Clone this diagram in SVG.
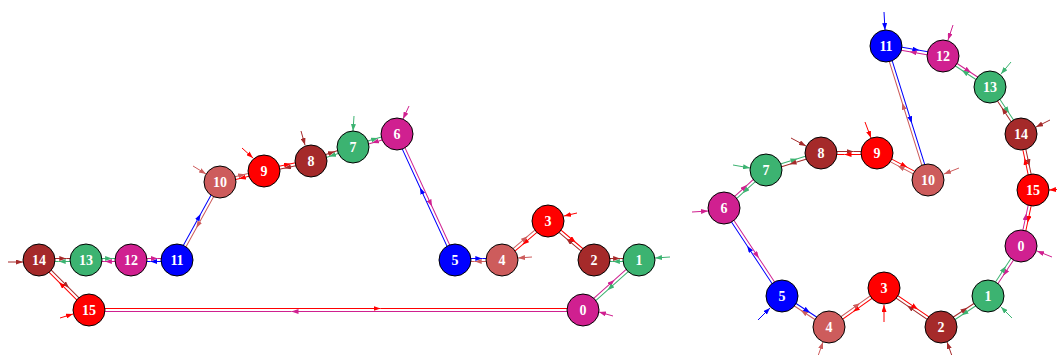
<svg xmlns="http://www.w3.org/2000/svg" width="1057" height="355" viewBox="0 0 1057 355">
<style>
path{fill:none;stroke-width:1}
.c0{stroke:#D02090}.c1{stroke:#3CB371}.c2{stroke:#A52A2A}.c3{stroke:#FF0000}.c4{stroke:#CD5C5C}.c5{stroke:#0000FF}
.e.c0{marker-mid:url(#a0)}.e.c1{marker-mid:url(#a1)}.e.c2{marker-mid:url(#a2)}.e.c3{marker-mid:url(#a3)}.e.c4{marker-mid:url(#a4)}.e.c5{marker-mid:url(#a5)}
.t.c0{marker-end:url(#a0)}.t.c1{marker-end:url(#a1)}.t.c2{marker-end:url(#a2)}.t.c3{marker-end:url(#a3)}.t.c4{marker-end:url(#a4)}.t.c5{marker-end:url(#a5)}
circle{stroke:#000;stroke-width:1}
.n0{fill:#D02090}.n1{fill:#3CB371}.n2{fill:#A52A2A}.n3{fill:#FF0000}.n4{fill:#CD5C5C}.n5{fill:#0000FF}
text{font-family:"Liberation Serif","Times New Roman",serif;font-weight:bold;font-size:14px;fill:#fff;text-anchor:middle}
</style>
<defs>
<marker id="a0" markerUnits="userSpaceOnUse" markerWidth="7" markerHeight="5" viewBox="0 0 7 5" refX="7" refY="2.5" orient="auto"><path d="M0,0L7,2.5L0,5z" style="fill:#D02090;stroke:none"/></marker>
<marker id="a1" markerUnits="userSpaceOnUse" markerWidth="7" markerHeight="5" viewBox="0 0 7 5" refX="7" refY="2.5" orient="auto"><path d="M0,0L7,2.5L0,5z" style="fill:#3CB371;stroke:none"/></marker>
<marker id="a2" markerUnits="userSpaceOnUse" markerWidth="7" markerHeight="5" viewBox="0 0 7 5" refX="7" refY="2.5" orient="auto"><path d="M0,0L7,2.5L0,5z" style="fill:#A52A2A;stroke:none"/></marker>
<marker id="a3" markerUnits="userSpaceOnUse" markerWidth="7" markerHeight="5" viewBox="0 0 7 5" refX="7" refY="2.5" orient="auto"><path d="M0,0L7,2.5L0,5z" style="fill:#FF0000;stroke:none"/></marker>
<marker id="a4" markerUnits="userSpaceOnUse" markerWidth="7" markerHeight="5" viewBox="0 0 7 5" refX="7" refY="2.5" orient="auto"><path d="M0,0L7,2.5L0,5z" style="fill:#CD5C5C;stroke:none"/></marker>
<marker id="a5" markerUnits="userSpaceOnUse" markerWidth="7" markerHeight="5" viewBox="0 0 7 5" refX="7" refY="2.5" orient="auto"><path d="M0,0L7,2.5L0,5z" style="fill:#0000FF;stroke:none"/></marker>
</defs>
<g id="connectors">
<!-- left ring -->
<g transform="translate(583,310) rotate(-41.76)"><path class="e c0" d="M0,-1.5L43.5,-1.5L75.07,-1.5"/><path class="e c1" d="M75.07,1.5L31.5,1.5L0,1.5"/></g>
<g transform="translate(639,260) rotate(180)"><path class="e c1" d="M0,-1.5L26.1,-1.5L45,-1.5"/><path class="e c2" d="M45,1.5L18.9,1.5L0,1.5"/></g>
<g transform="translate(594,260) rotate(-139.71)"><path class="e c2" d="M0,-1.5L35,-1.5L60.31,-1.5"/><path class="e c3" d="M60.31,1.5L25.3,1.5L0,1.5"/></g>
<g transform="translate(548,221) rotate(139.71)"><path class="e c3" d="M0,-1.5L35,-1.5L60.31,-1.5"/><path class="e c4" d="M60.31,1.5L25.3,1.5L0,1.5"/></g>
<g transform="translate(502,260) rotate(180)"><path class="e c4" d="M0,-1.5L27.3,-1.5L47,-1.5"/><path class="e c5" d="M47,1.5L19.7,1.5L0,1.5"/></g>
<g transform="translate(455,260) rotate(-114.72)"><path class="e c5" d="M0,-1.5L80.5,-1.5L138.71,-1.5"/><path class="e c0" d="M138.71,1.5L58.2,1.5L0,1.5"/></g>
<g transform="translate(397,134) rotate(163.54)"><path class="e c0" d="M0,-1.5L26.6,-1.5L45.88,-1.5"/><path class="e c1" d="M45.88,1.5L19.3,1.5L0,1.5"/></g>
<g transform="translate(353,147) rotate(161.57)"><path class="e c1" d="M0,-1.5L25.7,-1.5L44.27,-1.5"/><path class="e c2" d="M44.27,1.5L18.6,1.5L0,1.5"/></g>
<g transform="translate(311,161) rotate(167.99)"><path class="e c2" d="M0,-1.5L27.9,-1.5L48.05,-1.5"/><path class="e c3" d="M48.05,1.5L20.2,1.5L0,1.5"/></g>
<g transform="translate(264,171) rotate(165.96)"><path class="e c3" d="M0,-1.5L26.3,-1.5L45.35,-1.5"/><path class="e c4" d="M45.35,1.5L19.1,1.5L0,1.5"/></g>
<g transform="translate(220,182) rotate(118.87)"><path class="e c4" d="M0,-1.5L51.7,-1.5L89.07,-1.5"/><path class="e c5" d="M89.07,1.5L37.4,1.5L0,1.5"/></g>
<g transform="translate(177,260) rotate(180)"><path class="e c5" d="M0,-1.5L26.7,-1.5L46,-1.5"/><path class="e c0" d="M46,1.5L19.3,1.5L0,1.5"/></g>
<g transform="translate(131,260) rotate(180)"><path class="e c0" d="M0,-1.5L26.1,-1.5L45,-1.5"/><path class="e c1" d="M45,1.5L18.9,1.5L0,1.5"/></g>
<g transform="translate(86,260) rotate(180)"><path class="e c1" d="M0,-1.5L27.3,-1.5L47,-1.5"/><path class="e c2" d="M47,1.5L19.7,1.5L0,1.5"/></g>
<g transform="translate(39,260) rotate(45)"><path class="e c2" d="M0,-1.5L41,-1.5L70.71,-1.5"/><path class="e c3" d="M70.71,1.5L29.7,1.5L0,1.5"/></g>
<g transform="translate(89,310)"><path class="e c3" d="M0,-1.5L291.5,-1.5L494,-1.5"/><path class="e c0" d="M494,1.5L202.5,1.5L0,1.5"/></g>
<!-- right ring -->
<g transform="translate(1021,246) rotate(123.42)"><path class="e c0" d="M0,-1.5L34.7,-1.5L59.91,-1.5"/><path class="e c1" d="M59.91,1.5L25.2,1.5L0,1.5"/></g>
<g transform="translate(988,296) rotate(146.6)"><path class="e c1" d="M0,-1.5L32.7,-1.5L56.3,-1.5"/><path class="e c2" d="M56.3,1.5L23.6,1.5L0,1.5"/></g>
<g transform="translate(941,327) rotate(-145.62)"><path class="e c2" d="M0,-1.5L40.1,-1.5L69.07,-1.5"/><path class="e c3" d="M69.07,1.5L29,1.5L0,1.5"/></g>
<g transform="translate(884,288) rotate(144.66)"><path class="e c3" d="M0,-1.5L39.1,-1.5L67.42,-1.5"/><path class="e c4" d="M67.42,1.5L28.3,1.5L0,1.5"/></g>
<g transform="translate(829,327) rotate(-146.6)"><path class="e c4" d="M0,-1.5L32.7,-1.5L56.3,-1.5"/><path class="e c5" d="M56.3,1.5L23.6,1.5L0,1.5"/></g>
<g transform="translate(782,296) rotate(-123.39)"><path class="e c5" d="M0,-1.5L61.1,-1.5L105.39,-1.5"/><path class="e c0" d="M105.39,1.5L44.3,1.5L0,1.5"/></g>
<g transform="translate(724,208) rotate(-42.14)"><path class="e c0" d="M0,-1.5L32.9,-1.5L56.64,-1.5"/><path class="e c1" d="M56.64,1.5L23.7,1.5L0,1.5"/></g>
<g transform="translate(766,170) rotate(-17.18)"><path class="e c1" d="M0,-1.5L33.4,-1.5L57.57,-1.5"/><path class="e c2" d="M57.57,1.5L24.2,1.5L0,1.5"/></g>
<g transform="translate(821,153)"><path class="e c2" d="M0,-1.5L32.5,-1.5L56,-1.5"/><path class="e c3" d="M56,1.5L23.5,1.5L0,1.5"/></g>
<g transform="translate(877,153) rotate(27.9)"><path class="e c3" d="M0,-1.5L33.5,-1.5L57.71,-1.5"/><path class="e c4" d="M57.71,1.5L24.2,1.5L0,1.5"/></g>
<g transform="translate(928,180) rotate(-107.4)"><path class="e c4" d="M0,-1.5L81.4,-1.5L140.43,-1.5"/><path class="e c5" d="M140.43,1.5L59,1.5L0,1.5"/></g>
<g transform="translate(886,46) rotate(9.95)"><path class="e c5" d="M0,-1.5L33.6,-1.5L57.87,-1.5"/><path class="e c0" d="M57.87,1.5L24.3,1.5L0,1.5"/></g>
<g transform="translate(943,56) rotate(33.4)"><path class="e c0" d="M0,-1.5L32.7,-1.5L56.3,-1.5"/><path class="e c1" d="M56.3,1.5L23.6,1.5L0,1.5"/></g>
<g transform="translate(990,87) rotate(56.6)"><path class="e c1" d="M0,-1.5L32.7,-1.5L56.3,-1.5"/><path class="e c2" d="M56.3,1.5L23.6,1.5L0,1.5"/></g>
<g transform="translate(1021,134) rotate(77.91)"><path class="e c2" d="M0,-1.5L33.2,-1.5L57.27,-1.5"/><path class="e c3" d="M57.27,1.5L24.1,1.5L0,1.5"/></g>
<g transform="translate(1033,190) rotate(102.09)"><path class="e c3" d="M0,-1.5L33.2,-1.5L57.27,-1.5"/><path class="e c0" d="M57.27,1.5L24.1,1.5L0,1.5"/></g>
<!-- entry stubs left -->
<path class="t c2" d="M8,262L23,262"/>
<path class="t c3" d="M60,318L73,314"/>
<path class="t c4" d="M193,166L206,174"/>
<path class="t c3" d="M242,148L253,158"/>
<path class="t c2" d="M301,131L305,145"/>
<path class="t c1" d="M354,116L353,131"/>
<path class="t c0" d="M409,106L403,119"/>
<path class="t c4" d="M532,257L518,258"/>
<path class="t c3" d="M577,213L564,216"/>
<path class="t c1" d="M670,257L655,258"/>
<path class="t c0" d="M613,316L599,312"/>
<!-- entry stubs right -->
<path class="t c5" d="M884,12L885,30"/>
<path class="t c0" d="M953,25L948,40"/>
<path class="t c1" d="M1011,62L1001,74"/>
<path class="t c2" d="M1050,120L1036,127"/>
<path class="t c3" d="M1065,189L1049,190"/>
<path class="t c4" d="M959,168L944,174"/>
<path class="t c3" d="M865,122L871,138"/>
<path class="t c2" d="M791,138L806,146"/>
<path class="t c1" d="M733,165L750,168"/>
<path class="t c0" d="M692,212L708,211"/>
<path class="t c5" d="M758,320L770,308"/>
<path class="t c4" d="M818,356L823,342"/>
<path class="t c3" d="M884,322L884,305"/>
<path class="t c2" d="M952,356L947,342"/>
<path class="t c1" d="M1012,318L1001,307"/>
<path class="t c0" d="M1052,257L1037,251"/>
</g>
<g id="left-0"><circle class="n0" cx="583" cy="310" r="16"/><text x="583" y="315">0</text></g>
<g id="left-1"><circle class="n1" cx="639" cy="260" r="16"/><text x="639" y="265">1</text></g>
<g id="left-2"><circle class="n2" cx="594" cy="260" r="16"/><text x="594" y="265">2</text></g>
<g id="left-3"><circle class="n3" cx="548" cy="221" r="16"/><text x="548" y="226">3</text></g>
<g id="left-4"><circle class="n4" cx="502" cy="260" r="16"/><text x="502" y="265">4</text></g>
<g id="left-5"><circle class="n5" cx="455" cy="260" r="16"/><text x="455" y="265">5</text></g>
<g id="left-6"><circle class="n0" cx="397" cy="134" r="16"/><text x="397" y="139">6</text></g>
<g id="left-7"><circle class="n1" cx="353" cy="147" r="16"/><text x="353" y="152">7</text></g>
<g id="left-8"><circle class="n2" cx="311" cy="161" r="16"/><text x="311" y="166">8</text></g>
<g id="left-9"><circle class="n3" cx="264" cy="171" r="16"/><text x="264" y="176">9</text></g>
<g id="left-10"><circle class="n4" cx="220" cy="182" r="16"/><text x="220" y="187">10</text></g>
<g id="left-11"><circle class="n5" cx="177" cy="260" r="16"/><text x="177" y="265">11</text></g>
<g id="left-12"><circle class="n0" cx="131" cy="260" r="16"/><text x="131" y="265">12</text></g>
<g id="left-13"><circle class="n1" cx="86" cy="260" r="16"/><text x="86" y="265">13</text></g>
<g id="left-14"><circle class="n2" cx="39" cy="260" r="16"/><text x="39" y="265">14</text></g>
<g id="left-15"><circle class="n3" cx="89" cy="310" r="16"/><text x="89" y="315">15</text></g>
<g id="right-0"><circle class="n0" cx="1021" cy="246" r="16"/><text x="1021" y="251">0</text></g>
<g id="right-1"><circle class="n1" cx="988" cy="296" r="16"/><text x="988" y="301">1</text></g>
<g id="right-2"><circle class="n2" cx="941" cy="327" r="16"/><text x="941" y="332">2</text></g>
<g id="right-3"><circle class="n3" cx="884" cy="288" r="16"/><text x="884" y="293">3</text></g>
<g id="right-4"><circle class="n4" cx="829" cy="327" r="16"/><text x="829" y="332">4</text></g>
<g id="right-5"><circle class="n5" cx="782" cy="296" r="16"/><text x="782" y="301">5</text></g>
<g id="right-6"><circle class="n0" cx="724" cy="208" r="16"/><text x="724" y="213">6</text></g>
<g id="right-7"><circle class="n1" cx="766" cy="170" r="16"/><text x="766" y="175">7</text></g>
<g id="right-8"><circle class="n2" cx="821" cy="153" r="16"/><text x="821" y="158">8</text></g>
<g id="right-9"><circle class="n3" cx="877" cy="153" r="16"/><text x="877" y="158">9</text></g>
<g id="right-10"><circle class="n4" cx="928" cy="180" r="16"/><text x="928" y="185">10</text></g>
<g id="right-11"><circle class="n5" cx="886" cy="46" r="16"/><text x="886" y="51">11</text></g>
<g id="right-12"><circle class="n0" cx="943" cy="56" r="16"/><text x="943" y="61">12</text></g>
<g id="right-13"><circle class="n1" cx="990" cy="87" r="16"/><text x="990" y="92">13</text></g>
<g id="right-14"><circle class="n2" cx="1021" cy="134" r="16"/><text x="1021" y="139">14</text></g>
<g id="right-15"><circle class="n3" cx="1033" cy="190" r="16"/><text x="1033" y="195">15</text></g>
</svg>
